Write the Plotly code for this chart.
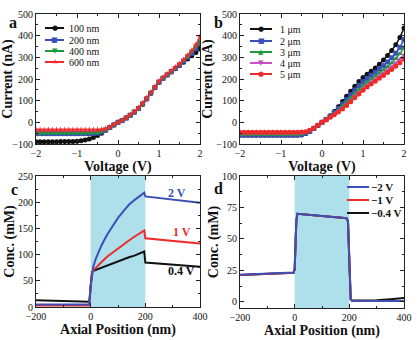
import plotly.graph_objects as go

# ---------------- data ----------------
voltage = [-2.0, -1.9, -1.8, -1.7, -1.6, -1.5, -1.4, -1.3, -1.2, -1.1, -1.0,
           -0.9, -0.8, -0.7, -0.6, -0.5, -0.4, -0.3, -0.2, -0.1, 0.0,
           0.1, 0.2, 0.3, 0.4, 0.5, 0.6, 0.7, 0.8, 0.9, 1.0,
           1.1, 1.2, 1.3, 1.4, 1.5, 1.6, 1.7, 1.8, 1.9, 2.0]

a_names = ["100 nm", "200 nm", "400 nm", "600 nm"]
a_100 = [-90, -90, -90, -90, -90, -90, -89, -89, -88, -88, -87,
         -85, -82, -77, -70, -61, -50, -37, -24, -12, 0,
         8, 20, 33, 47, 63, 84, 108, 134, 160, 185,
         203, 218, 232, 247, 262, 277, 292, 307, 322, 338]
a_200 = [-52, -52, -52, -52, -52, -52, -52, -52, -52, -52, -52,
         -52, -52, -52, -51, -49, -44, -35, -24, -12, 0,
         8, 20, 33, 48, 64, 85, 109, 135, 161, 186,
         204, 219, 234, 249, 265, 282, 300, 318, 340, 365]
a_400 = [-50, -50, -50, -50, -50, -50, -50, -50, -50, -50, -50,
         -50, -50, -50, -49, -48, -43, -34, -23, -12, 0,
         9, 21, 34, 49, 65, 86, 110, 136, 162, 188,
         206, 221, 236, 252, 268, 286, 305, 326, 350, 378]
a_600 = [-35, -35, -35, -35, -35, -35, -35, -35, -35, -35, -35,
         -35, -35, -35, -35, -35, -34, -30, -21, -10, 0,
         9, 22, 35, 50, 67, 88, 112, 138, 164, 190,
         208, 223, 238, 254, 270, 289, 309, 331, 358, 395]

b_names = ["1 μm", "2 μm", "3 μm", "4 μm", "5 μm"]
b_1 = [-60, -60, -60, -60, -60, -60, -60, -60, -60, -60, -60,
       -60, -60, -60, -60, -58, -52, -42, -29, -15, 0,
       14, 30, 50, 72, 96, 120, 143, 166, 188, 207,
       222, 236, 251, 268, 288, 309, 332, 358, 392, 435]
b_2 = [-58, -58, -58, -58, -58, -58, -58, -58, -58, -58, -58,
       -58, -58, -58, -58, -56, -50, -41, -28, -14, 0,
       13, 28, 45, 64, 84, 106, 128, 149, 170, 188,
       203, 217, 231, 246, 262, 279, 298, 319, 346, 382]
b_3 = [-56, -56, -56, -56, -56, -56, -56, -56, -56, -56, -56,
       -56, -56, -56, -56, -54, -49, -40, -28, -14, 0,
       12, 26, 41, 57, 75, 94, 114, 133, 152, 170,
       185, 199, 213, 227, 242, 257, 274, 293, 316, 345]
b_4 = [-50, -50, -50, -50, -50, -50, -50, -50, -50, -50, -50,
       -50, -50, -50, -50, -49, -46, -38, -27, -13, 0,
       11, 24, 37, 51, 66, 83, 101, 120, 139, 157,
       172, 186, 200, 214, 228, 243, 258, 275, 292, 312]
b_5 = [-46, -46, -46, -46, -46, -46, -46, -46, -46, -46, -46,
       -46, -46, -46, -46, -45, -43, -36, -26, -13, 0,
       11, 23, 35, 48, 62, 78, 95, 113, 131, 148,
       163, 177, 190, 203, 216, 230, 244, 259, 275, 292]

c_names = ["2 V", "1 V", "0.4 V"]
c_pos = [-200, -100, -5, 0, 5, 10, 20, 40, 60, 80, 100, 120, 140, 160, 180, 196,
         200, 300, 400]
c_2v = [5, 5, 5, 40, 66, 78, 94, 118, 138, 155, 170, 183, 195, 204, 212, 218,
        211, 205, 199]
c_1v = [3, 3, 3, 40, 66, 70, 76, 86, 96, 104, 112, 120, 127, 134, 140, 146,
        131, 126, 121]
c_04v = [13, 12, 10, 40, 66, 69, 71, 76, 80, 84, 87, 91, 95, 98, 102, 106,
         85, 81, 77]

d_names = ["\u22122 V", "\u22121 V", "\u22120.4 V"]
d_pos = [-200, -100, -4, 0, 3, 6, 10, 100, 190, 195, 198, 201, 205, 210, 300, 350, 400]
d_2v = [21.5, 22.3, 23.2, 26, 45, 64, 70, 68.3, 66.5, 64, 40, 15, 2, 0.8, 0.6, 0.5, 0.5]
d_1v = [21.2, 22.0, 23.0, 26, 45, 64, 70, 68.2, 66.4, 64, 40, 15, 2, 0.8, 0.6, 0.6, 0.6]
d_04v = [21.3, 22.1, 23.0, 26, 45, 64, 70, 68.2, 66.4, 64, 40, 15, 2, 0.9, 1.2, 2.0, 3.0]

# ---------------- styling ----------------
W, H = 417, 340
SERIF = "Liberation Serif"
BLACK, BLUE, GREEN, RED, MAGENTA = "#111111", "#3a4fb8", "#1f9a3a", "#f02a2a", "#c850c0"


def px(x):
    return x / W


def py(y):
    return 1 - y / H


fig = go.Figure()

# panel a
a_series = [a_100, a_200, a_400, a_600]
a_colors = [BLACK, BLUE, GREEN, RED]
a_symbols = ["circle", "square", "triangle-down", "star"]
for name, vals, col, sym in zip(a_names, a_series, a_colors, a_symbols):
    fig.add_trace(go.Scatter(x=voltage, y=vals, name=name, mode="lines+markers",
                             line=dict(color=col, width=1.5),
                             marker=dict(symbol=sym, size=5, color=col),
                             xaxis="x", yaxis="y", showlegend=False))

# panel b
b_series = [b_1, b_2, b_3, b_4, b_5]
b_colors = [BLACK, BLUE, GREEN, MAGENTA, RED]
b_symbols = ["circle", "square", "triangle-up", "triangle-down", "circle"]
for name, vals, col, sym in zip(b_names, b_series, b_colors, b_symbols):
    fig.add_trace(go.Scatter(x=voltage, y=vals, name=name, mode="lines+markers",
                             line=dict(color=col, width=1.5),
                             marker=dict(symbol=sym, size=5, color=col),
                             xaxis="x2", yaxis="y2", showlegend=False))

# panel c
c_series = [c_04v, c_1v, c_2v]
c_colors = [BLACK, RED, BLUE]
for name, vals, col in zip(c_names[::-1], c_series, c_colors):
    fig.add_trace(go.Scatter(x=c_pos, y=vals, name=name, mode="lines",
                             line=dict(color=col, width=2),
                             xaxis="x3", yaxis="y3", showlegend=False))

# panel d
d_series = [d_04v, d_1v, d_2v]
d_colors = [BLACK, RED, BLUE]
for name, vals, col in zip(d_names[::-1], d_series, d_colors):
    fig.add_trace(go.Scatter(x=d_pos, y=vals, name=name, mode="lines",
                             line=dict(color=col, width=2),
                             xaxis="x4", yaxis="y4", showlegend=False))


def axis(domain, anchor, rng, dtick, title, minor_dtick):
    return dict(domain=domain, anchor=anchor, range=rng, dtick=dtick, automargin=False,
                ticks="inside", ticklen=4, tickwidth=1, tickcolor="#222",
                mirror="allticks", showline=True, linecolor="#222", linewidth=1,
                showgrid=False, zeroline=False,
                minor=dict(ticks="inside", ticklen=2, dtick=minor_dtick, tickcolor="#222", showgrid=False),
                tickfont=dict(family=SERIF, size=10, color="#111"),
                title=dict(text="<b>%s</b>" % title, font=dict(family=SERIF, size=14, color="#111"),
                           standoff=0))


xa_dom = [px(36), px(200)]
xb_dom = [px(240), px(404)]
y_top_dom = [py(144), py(14)]
y_c_dom = [py(307), py(176)]
y_d_dom = [py(308), py(176)]

fig.update_layout(
    width=W, height=H, margin=dict(l=0, r=0, t=0, b=0, autoexpand=False),
    paper_bgcolor="white", plot_bgcolor="white",
    xaxis=axis(xa_dom, "y", [-2, 2], 1, "Voltage (V)", 0.5),
    yaxis=axis(y_top_dom, "x", [-100, 500], 100, "Current (nA)", 50),
    xaxis2=axis(xb_dom, "y2", [-2, 2], 1, "Voltage (V)", 0.5),
    yaxis2=axis(y_top_dom, "x2", [-100, 500], 100, "Current (nA)", 50),
    xaxis3=axis(xa_dom, "y3", [-200, 400], 200, "Axial Position (nm)", 100),
    yaxis3=axis(y_c_dom, "x3", [0, 250], 50, "Conc. (mM)", 25),
    xaxis4=axis(xb_dom, "y4", [-200, 400], 200, "Axial Position (nm)", 100),
    yaxis4=axis(y_d_dom, "x4", [-5, 100], 25, "Conc. (mM)", 12.5),
)

# shaded nanopore region in c and d
SHADE = "#ade0ea"
for xr, yr in [("x3", "y3 domain"), ("x4", "y4 domain")]:
    fig.add_shape(type="rect", xref=xr, yref=yr, x0=0, x1=200, y0=0, y1=1,
                  fillcolor=SHADE, line_width=0, layer="below")

# panel letters
for letter, x, y in [("a", 13, 23), ("b", 218, 23), ("c", 14, 189), ("d", 218, 188)]:
    fig.add_annotation(text="<b>%s</b>" % letter, x=px(x), y=py(y), xref="paper", yref="paper",
                       showarrow=False, font=dict(family=SERIF, size=16, color="#111"),
                       xanchor="center", yanchor="middle")

glyph = {"circle": "\u25cf", "square": "\u25a0", "triangle-down": "\u25bc",
         "triangle-up": "\u25b2", "star": "\u2605"}


def legend(names, colors, symbols, x0, x1, xt, ys, size=10, bold=False):
    for name, col, sym, y in zip(names, colors, symbols, ys):
        fig.add_shape(type="line", xref="paper", yref="paper", x0=px(x0), x1=px(x1),
                      y0=py(y), y1=py(y), line=dict(color=col, width=2))
        if sym:
            fig.add_annotation(text=glyph[sym], x=px((x0 + x1) / 2), y=py(y), xref="paper", yref="paper",
                               showarrow=False, font=dict(family="DejaVu Sans", size=7, color=col),
                               xanchor="center", yanchor="middle")
        fig.add_annotation(text=("<b>%s</b>" % name) if bold else name, x=px(xt), y=py(y),
                           xref="paper", yref="paper", showarrow=False,
                           font=dict(family=SERIF, size=size, color="#111"),
                           xanchor="left", yanchor="middle")


legend(a_names, a_colors, a_symbols, 45, 64, 67, [28, 40, 51, 62])
legend(b_names, b_colors, b_symbols, 250, 272, 278, [29, 41, 52, 63, 74])
legend(d_names, [BLUE, RED, BLACK], [None, None, None], 347, 369, 369, [187, 200, 213],
       size=11, bold=True)

# curve labels in c
for name, col, x, y in [("2 V", BLUE, 177, 193), ("1 V", RED, 182, 232), ("0.4 V", "#111", 181, 271)]:
    fig.add_annotation(text="<b>%s</b>" % name, x=px(x), y=py(y), xref="paper", yref="paper",
                       showarrow=False, font=dict(family=SERIF, size=12, color=col),
                       xanchor="center", yanchor="middle")

fig.write_html("out.html", config={"displayModeBar": False},
               post_script="document.body.style.margin='0';document.body.style.overflow='hidden';")
